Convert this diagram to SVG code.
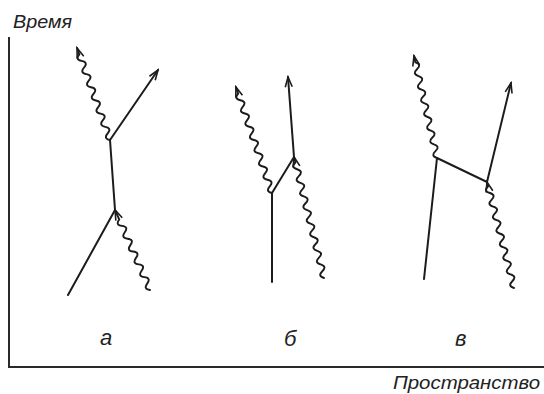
<svg xmlns="http://www.w3.org/2000/svg" width="544" height="394" viewBox="0 0 544 394">
<style>
.ln{fill:none;stroke:#1c1c1c;stroke-width:2;stroke-linecap:round;stroke-linejoin:round}
.wv{fill:none;stroke:#1c1c1c;stroke-width:1.9;stroke-linecap:round}
.ax{fill:none;stroke:#2a2a2a;stroke-width:2}
.t{font-family:"Liberation Sans","DejaVu Sans",sans-serif;font-style:italic;fill:#222}
</style>
<defs>
<marker id="ah" markerUnits="userSpaceOnUse" markerWidth="14" markerHeight="10" refX="12" refY="5" orient="auto" viewBox="0 0 14 10">
<path d="M2,1.5 L12,5 L2,8.5" fill="none" stroke="#1c1c1c" stroke-width="1.6"/>
</marker>
</defs>
<rect width="544" height="394" fill="#ffffff"/>
<g id="axes">
<path class="ax" d="M9,37 L9,367 L544,367"/>
<text class="t" x="13" y="28" font-size="18" textLength="59" lengthAdjust="spacingAndGlyphs">Время</text>
<text class="t" x="393" y="389" font-size="18" textLength="147" lengthAdjust="spacingAndGlyphs">Пространство</text>
</g>
<g id="connectors">
<g id="diagram-a">
<path class="ln" d="M68,295 L115,210 L110,140"/>
<path class="ln" d="M110,140 L158,70" marker-end="url(#ah)"/>
<path class="wv" transform="translate(110,140) rotate(-109.7)" marker-end="url(#ah)" d="M0,0 q3.5,-6 7,0 t7,0 t7,0 t7,0 t7,0 t7,0 t7,0 t7,0 t7,0 t7,0 t7,0 t7,0 t7,0 L97.7,0"/>
<path class="wv" transform="translate(150,290) rotate(-113.6)" marker-end="url(#ah)" d="M0,0 q3.5,-6 7,0 t7,0 t7,0 t7,0 t7,0 t7,0 t7,0 t7,0 t7,0 t7,0 t7,0 L87.3,0"/>
</g>
<g id="diagram-b">
<path class="ln" d="M272,282 L272,193 L294,157"/>
<path class="ln" d="M294,157 L288,77" marker-end="url(#ah)"/>
<path class="wv" transform="translate(272,193) rotate(-108.8)" marker-end="url(#ah)" d="M0,0 q3.5,-6 7,0 t7,0 t7,0 t7,0 t7,0 t7,0 t7,0 t7,0 t7,0 t7,0 t7,0 t7,0 t7,0 t7,0 t7,0 L112,0"/>
<path class="wv" transform="translate(324,278) rotate(-103.9)" marker-end="url(#ah)" d="M0,0 q3.5,-6 7,0 t7,0 t7,0 t7,0 t7,0 t7,0 t7,0 t7,0 t7,0 t7,0 t7,0 t7,0 t7,0 t7,0 t7,0 t7,0 t7,0 L124.7,0"/>
</g>
<g id="diagram-v">
<path class="ln" d="M424,279 L437,158 L487,182"/>
<path class="ln" d="M487,182 L511,83" marker-end="url(#ah)"/>
<path class="wv" transform="translate(437,158) rotate(-102.7)" marker-end="url(#ah)" d="M0,0 q3.5,-6 7,0 t7,0 t7,0 t7,0 t7,0 t7,0 t7,0 t7,0 t7,0 t7,0 t7,0 t7,0 t7,0 t7,0 L104.6,0"/>
<path class="wv" transform="translate(514,288) rotate(-104.3)" marker-end="url(#ah)" d="M0,0 q3.5,-6 7,0 t7,0 t7,0 t7,0 t7,0 t7,0 t7,0 t7,0 t7,0 t7,0 t7,0 t7,0 t7,0 t7,0 t7,0 L109.4,0"/>
</g>
</g>
<g id="label-a"><text class="t" x="100" y="345" font-size="22">a</text></g>
<g id="label-b"><text class="t" x="284" y="346" font-size="22">б</text></g>
<g id="label-v"><text class="t" x="455" y="346" font-size="22">в</text></g>
</svg>
